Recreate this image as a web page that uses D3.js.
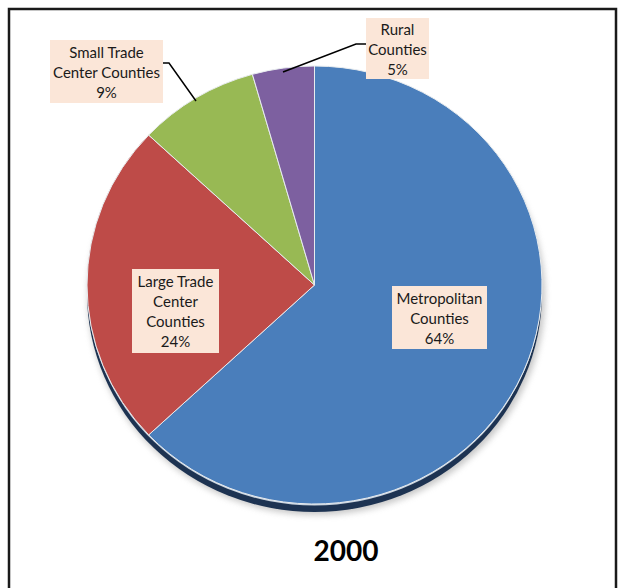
<!DOCTYPE html>
<html>
<head>
<meta charset="utf-8">
<script src="https://cdn.jsdelivr.net/npm/d3@7/dist/d3.min.js"></script>
<style>
  html, body { margin: 0; padding: 0; background: #fff; }
  svg { display: block; }
</style>
</head>
<body>
<svg id="chart" width="624" height="588"></svg>
<script>
// ---- data ----
const categories = ["Metropolitan Counties", "Large Trade Center Counties", "Small Trade Center Counties", "Rural Counties"];
const values = [63, 24, 8.6, 4.4];
const percentLabels = ["64%", "24%", "9%", "5%"];
const labelLines = [
  ["Metropolitan", "Counties"],
  ["Large Trade", "Center", "Counties"],
  ["Small Trade", "Center Counties"],
  ["Rural", "Counties"]
];
const title = "2000";

// ---- styling / layout ----
const colors = ["#4a7ebb", "#be4b48", "#98b954", "#7d60a0"];
const W = 624, H = 588;
const cx = 314.5, cy = 285, rx = 227.5, ry = 219;
const fontFam = "Lato, 'Open Sans', sans-serif";
// label box layout: center x, top y, width, height
const boxLayout = [
  { x: 439.5, y: 286, w: 95, h: 63 },
  { x: 175.5, y: 269, w: 87, h: 84 },
  { x: 106.5, y: 40, w: 113, h: 63 },
  { x: 397.5, y: 18, w: 63, h: 61 }
];
// leader lines (only for outside labels)
const leaders = [null, null,
  [[163, 63], [169, 63], [196, 101]],
  [[366, 44], [356, 44], [283, 72]]
];

const svg = d3.select("#chart");

const defs = svg.append("defs");
const blur = defs.append("filter").attr("id", "blur").attr("x", "-20%").attr("y", "-20%").attr("width", "140%").attr("height", "140%");
blur.append("feGaussianBlur").attr("stdDeviation", 3);

// frame
svg.append("path")
  .attr("d", `M9,${H} L9,9 L616,9 L616,${H}`)
  .attr("fill", "none").attr("stroke", "#1a1a1a").attr("stroke-width", 2.5);

const pie = d3.pie().sort(null).value(d => d).startAngle(0).endAngle(2 * Math.PI);
const arcs = pie(values);
const arc = d3.arc().innerRadius(0).outerRadius(rx);

// shadow / 3D edge
const g0 = svg.append("g").attr("transform", `translate(${cx},${cy})`);
g0.append("ellipse").attr("cx", 2).attr("cy", 11).attr("rx", rx + 1).attr("ry", ry)
  .attr("fill", "#9a9a9a").attr("opacity", 0.55).attr("filter", "url(#blur)");
g0.append("ellipse").attr("cx", 0).attr("cy", 8).attr("rx", rx).attr("ry", ry)
  .attr("fill", "#1d3352");
g0.append("ellipse").attr("cx", 0).attr("cy", 1.5).attr("rx", rx).attr("ry", ry)
  .attr("fill", "#c9d3de");

// slices
const g = svg.append("g").attr("transform", `translate(${cx},${cy}) scale(1,${ry / rx})`);
g.selectAll("path.slice").data(arcs).enter().append("path")
  .attr("class", "slice")
  .attr("d", arc)
  .attr("fill", (d, i) => colors[i])
  .attr("stroke", "#e8ecef")
  .attr("stroke-width", 1)
  .attr("vector-effect", "non-scaling-stroke");

// leader lines
leaders.forEach(pts => {
  if (!pts) return;
  svg.append("path").attr("d", d3.line()(pts))
    .attr("fill", "none").attr("stroke", "#000").attr("stroke-width", 1.5);
});

// labels
categories.forEach((c, i) => {
  const b = boxLayout[i];
  const lg = svg.append("g");
  lg.append("rect").attr("x", b.x - b.w / 2).attr("y", b.y).attr("width", b.w).attr("height", b.h)
    .attr("fill", "#fbe6d8");
  const lines = labelLines[i].concat([percentLabels[i]]);
  const lh = 20;
  const startY = b.y + b.h / 2 - (lines.length - 1) * lh / 2;
  lines.forEach((t, j) => {
    lg.append("text").attr("x", b.x).attr("y", startY + j * lh)
      .attr("text-anchor", "middle").attr("dominant-baseline", "central")
      .attr("font-family", fontFam).attr("font-size", 15).attr("fill", "#1a1a1a")
      .text(t);
  });
});

// title
svg.append("text").attr("x", 346).attr("y", 561)
  .attr("text-anchor", "middle")
  .attr("font-family", fontFam).attr("font-weight", "bold").attr("font-size", 28).attr("fill", "#000")
  .text(title);
</script>
</body>
</html>
